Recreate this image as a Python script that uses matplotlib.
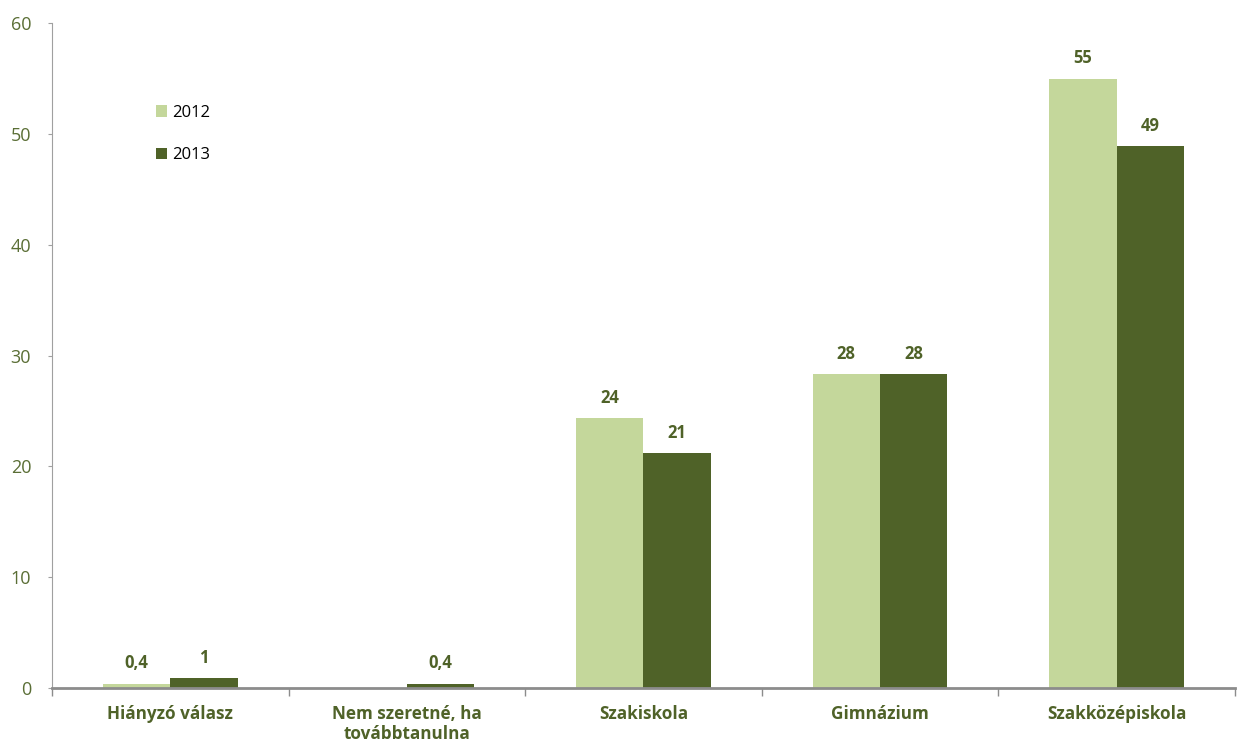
import numpy as np
import matplotlib
matplotlib.use("Agg")
import matplotlib.pyplot as plt

plt.rcParams["font.family"] = ["Open Sans", "DejaVu Sans"]

LIGHT = "#c4d79b"
DARK = "#4f6228"
TXT = "#4f6228"

categories = ["Hiányzó válasz", "Nem szeretné, ha\ntovábbtanulna",
              "Szakiskola", "Gimnázium", "Szakközépiskola"]
vals_2012 = [0.4, 0.0, 24.4, 28.3, 55.0]
vals_2013 = [0.9, 0.4, 21.2, 28.3, 48.9]
labels_2012 = ["0,4", "", "24", "28", "55"]
labels_2013 = ["1", "0,4", "21", "28", "49"]
yticks = [0, 10, 20, 30, 40, 50, 60]

fig = plt.figure(figsize=(12.38, 7.47), dpi=100)
ax = fig.add_axes([0.042, 0.079, 0.9555, 0.890])

x = np.arange(len(categories))
w = 0.285
b1 = ax.bar(x - w / 2, vals_2012, w, color=LIGHT, label="2012")
b2 = ax.bar(x + w / 2, vals_2013, w, color=DARK, label="2013")

for bars, labs in ((b1, labels_2012), (b2, labels_2013)):
    for bar, lab in zip(bars, labs):
        if not lab:
            continue
        ax.annotate(lab, (bar.get_x() + bar.get_width() / 2, bar.get_height()),
                    xytext=(0, 8), textcoords="offset points",
                    ha="center", va="bottom", fontsize=12,
                    fontweight="bold", color=TXT)

ax.set_xlim(-0.5, len(categories) - 0.5)
ax.set_ylim(0, 60)
ax.set_yticks(yticks)
ax.set_yticklabels([str(t) for t in yticks], color="#5a6e35", fontsize=13)
ax.tick_params(axis="y", length=3, color="#a0a0a0", pad=12)

ax.set_xticks(np.arange(len(categories) + 1) - 0.5)
ax.set_xticklabels([])
ax.set_xticks(x, minor=True)
ax.set_xticklabels(categories, minor=True, fontsize=12.3,
                   fontweight="bold", color=TXT)
ax.tick_params(axis="x", which="major", length=6, color="#8c8c8c", width=1)
ax.tick_params(axis="x", which="minor", length=0, pad=12)

for s in ("top", "right"):
    ax.spines[s].set_visible(False)
ax.spines["left"].set_color("#a0a0a0")
ax.spines["left"].set_linestyle((0, (1, 1)))
ax.spines["left"].set_linewidth(0.8)
ax.spines["bottom"].set_color("#8c8c8c")
ax.spines["bottom"].set_linewidth(2)

ax.legend(loc="upper left", bbox_to_anchor=(0.075, 0.90), frameon=False,
          fontsize=12, handlelength=0.7, handleheight=0.7,
          handletextpad=0.3, labelspacing=1.6, labelcolor="black")

fig.savefig("out.png", dpi=100)
